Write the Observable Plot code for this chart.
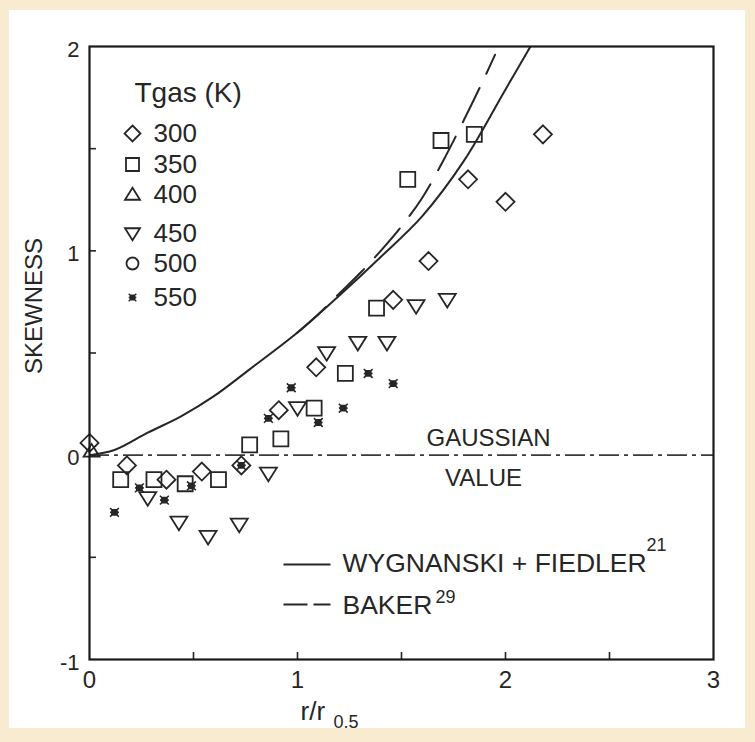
<!DOCTYPE html>
<html><head><meta charset="utf-8">
<script src="https://cdn.jsdelivr.net/npm/d3@7"></script>
<script src="https://cdn.jsdelivr.net/npm/@observablehq/plot@0.6"></script>
<style>
html,body{margin:0;padding:0;background:#f8ebcf;width:755px;height:742px;overflow:hidden}
#paper{position:absolute;left:9px;top:10px;width:736px;height:718px;background:#ffffff}
#chart{position:absolute;left:0;top:0}
</style></head><body>
<div id="paper"></div><div id="chart"></div>
<script>
// ---- data ----
const seriesLabels = ["300", "350", "400", "450", "500", "550"];

const r300 = [0.00, 0.18, 0.37, 0.54, 0.73, 0.91, 1.09, 1.46, 1.63, 1.82, 2.00, 2.18];
const s300 = [0.06, -0.05, -0.12, -0.08, -0.05, 0.22, 0.43, 0.76, 0.95, 1.35, 1.24, 1.57];

const r350 = [0.15, 0.31, 0.46, 0.62, 0.77, 0.92, 1.08, 1.23, 1.38, 1.53, 1.69, 1.85];
const s350 = [-0.12, -0.12, -0.14, -0.12, 0.05, 0.08, 0.23, 0.40, 0.72, 1.35, 1.54, 1.57];

const r400 = [0.01];
const s400 = [0.02];

const r450 = [0.28, 0.43, 0.57, 0.72, 0.86, 1.00, 1.14, 1.29, 1.43, 1.57, 1.72];
const s450 = [-0.21, -0.33, -0.40, -0.34, -0.09, 0.23, 0.50, 0.55, 0.55, 0.73, 0.76];

const r500 = [];
const s500 = [];

const r550 = [0.12, 0.24, 0.36, 0.49, 0.73, 0.86, 0.97, 1.10, 1.22, 1.34, 1.46];
const s550 = [-0.28, -0.16, -0.22, -0.15, -0.05, 0.18, 0.33, 0.16, 0.23, 0.40, 0.35];

// Wygnanski + Fiedler (solid)
const rWF = [0, 0.12, 0.28, 0.44, 0.60, 0.77, 1.00, 1.20, 1.40, 1.60, 1.80, 2.00, 2.12];
const sWF = [0, 0.025, 0.11, 0.19, 0.29, 0.42, 0.60, 0.78, 0.97, 1.17, 1.44, 1.79, 2.00];

// Baker (dashed)
const rBK = [1.00, 1.10, 1.20, 1.30, 1.40, 1.50, 1.60, 1.70, 1.80, 1.90, 1.95];
const sBK = [0.60, 0.69, 0.79, 0.89, 1.00, 1.12, 1.26, 1.44, 1.64, 1.85, 1.96];

const gaussianValue = [0];

const xTickLabels = [0, 1, 2, 3];
const yTickLabels = [-1, 0, 1, 2];
const xTickMarks = [0.5, 1, 1.5, 2, 2.5];
const yTickMarks = [-0.5, 0, 0.5, 1, 1.5];

const legendTitle = "Tgas (K)";
const curveLabels = ["WYGNANSKI + FIEDLER", "BAKER"];
const curveRefs = ["21", "29"];
const gaussianLabel = ["GAUSSIAN", "VALUE"];
const xTitle = ["r/r", "0.5"];
const yTitle = "SKEWNESS";

// ---- build tables ----
const tbl = (xs, ys) => xs.map((x, i) => ({x, y: ys[i]}));

// ---- custom symbols ----
const rad = (size) => Math.sqrt(size / Math.PI);
const diamondSym = {draw(c, s) { const r = rad(s); c.moveTo(0, -r); c.lineTo(r, 0); c.lineTo(0, r); c.lineTo(-r, 0); c.closePath(); }};
const squareSym = {draw(c, s) { const r = rad(s); c.rect(-r, -r, 2 * r, 2 * r); }};
const triUpSym = {draw(c, s) { const r = rad(s); c.moveTo(0, -r * 0.9); c.lineTo(r, r * 0.7); c.lineTo(-r, r * 0.7); c.closePath(); }};
const triDownSym = {draw(c, s) { const r = rad(s); c.moveTo(0, r * 0.9); c.lineTo(r, -r * 0.7); c.lineTo(-r, -r * 0.7); c.closePath(); }};
const circleSym = {draw(c, s) { const r = rad(s); c.moveTo(r, 0); c.arc(0, 0, r, 0, 2 * Math.PI); }};
const starSym = {draw(c, s) { const r = rad(s); c.rect(-r * 0.6, -r * 0.6, r * 1.2, r * 1.2); c.moveTo(-r, -r); c.lineTo(r, r); c.moveTo(r, -r); c.lineTo(-r, r); c.moveTo(-r, 0); c.lineTo(r, 0); }};
const hLineSym = {draw(c, s) { const r = rad(s); c.moveTo(-r, 0); c.lineTo(r, 0); }};

const ink = "#262626";
const symbols = [diamondSym, squareSym, triUpSym, triDownSym, circleSym, starSym];
const dataSets = [[r300, s300], [r350, s350], [r400, s400], [r450, s450], [r500, s500], [r550, s550]];
const dataR = [9, 7.5, 8, 8.5, 6.5, 4.4];
const legendR = [8, 6.5, 7.5, 7.5, 6, 3.8];
const legendDy = [87, 118, 148, 187, 217, 251];

const marks = [];

// Gaussian reference line
marks.push(Plot.ruleY(gaussianValue, {stroke: "#3a3a3a", strokeWidth: 1.8, strokeDasharray: "20,5,4,5"}));

// curves
marks.push(Plot.line(tbl(rWF, sWF), {x: "x", y: "y", curve: "catmull-rom", stroke: ink, strokeWidth: 2, clip: true}));
marks.push(Plot.line(tbl(rBK, sBK), {x: "x", y: "y", curve: "catmull-rom", stroke: ink, strokeWidth: 2, strokeDasharray: "38,16", clip: true}));

// data points
dataSets.forEach(([xs, ys], i) => {
  const isStar = i === 5;
  marks.push(Plot.dot(tbl(xs, ys), {
    x: "x", y: "y", symbol: symbols[i], r: dataR[i],
    stroke: ink, strokeWidth: isStar ? 1.6 : 1.8,
    fill: isStar ? ink : "none"
  }));
});

// ticks (inward)
marks.push(Plot.tickX(xTickMarks, {x: d => d, stroke: ink, strokeWidth: 1.6, insetTop: 613 - 7}));
marks.push(Plot.tickY(yTickMarks, {y: d => d, stroke: ink, strokeWidth: 1.6, insetRight: 624 - 7}));

// frame
marks.push(Plot.frame({stroke: "#1a1a1a", strokeWidth: 2.2}));

// axes labels
marks.push(Plot.axisX(xTickLabels, {tickSize: 0, tickPadding: 11, fontSize: 24, label: null, tickFormat: d => String(d)}));
marks.push(Plot.axisY(yTickLabels, {tickSize: 0, tickPadding: 10, fontSize: 22, label: null, dy: 3, tickFormat: d => String(d)}));

// axis titles
marks.push(Plot.text([yTitle], {text: d => d, frameAnchor: "left", dx: -55, dy: -47, rotate: -90, textAnchor: "middle", lineAnchor: "middle", fontSize: 24, fill: ink}));
marks.push(Plot.text([xTitle[0]], {text: d => d, frameAnchor: "bottom-left", dx: 211, dy: 52, textAnchor: "start", lineAnchor: "middle", fontSize: 26, letterSpacing: 1.5, fill: ink}));
marks.push(Plot.text([xTitle[1]], {text: d => d, frameAnchor: "bottom-left", dx: 244, dy: 63, textAnchor: "start", lineAnchor: "middle", fontSize: 18, fill: ink}));

// legend (Tgas)
marks.push(Plot.text([legendTitle], {text: d => d, frameAnchor: "top-left", dx: 45, dy: 47, textAnchor: "start", lineAnchor: "middle", fontSize: 28, letterSpacing: 0.5, fill: ink}));
seriesLabels.forEach((lab, i) => {
  const isStar = i === 5;
  marks.push(Plot.dot([lab], {frameAnchor: "top-left", dx: 43, dy: legendDy[i], symbol: symbols[i], r: legendR[i],
    stroke: ink, strokeWidth: isStar ? 1.4 : 1.8, fill: isStar ? ink : "none"}));
  marks.push(Plot.text([lab], {text: d => d, frameAnchor: "top-left", dx: 64, dy: legendDy[i], textAnchor: "start", lineAnchor: "middle", fontSize: 26, letterSpacing: 3, fill: ink}));
});

// curve legend
marks.push(Plot.dot([curveLabels[0]], {frameAnchor: "top-left", dx: 217.5, dy: 518, symbol: hLineSym, r: 23.5, stroke: ink, strokeWidth: 2}));
marks.push(Plot.dot([curveLabels[1]], {frameAnchor: "top-left", dx: 217.5, dy: 558, symbol: hLineSym, r: 23.5, stroke: ink, strokeWidth: 2, strokeDasharray: "24,6"}));
marks.push(Plot.text([curveLabels[0]], {text: d => d, frameAnchor: "top-left", dx: 253, dy: 517, textAnchor: "start", lineAnchor: "middle", fontSize: 26.5, fill: ink}));
marks.push(Plot.text([curveLabels[1]], {text: d => d, frameAnchor: "top-left", dx: 253, dy: 559, textAnchor: "start", lineAnchor: "middle", fontSize: 26.5, fill: ink}));
marks.push(Plot.text([curveRefs[0]], {text: d => d, frameAnchor: "top-left", dx: 557, dy: 499, textAnchor: "start", lineAnchor: "middle", fontSize: 18, fill: ink}));
marks.push(Plot.text([curveRefs[1]], {text: d => d, frameAnchor: "top-left", dx: 346, dy: 551, textAnchor: "start", lineAnchor: "middle", fontSize: 18, fill: ink}));

// Gaussian annotation
marks.push(Plot.text([gaussianLabel[0]], {text: d => d, frameAnchor: "top-left", dx: 399, dy: 392, textAnchor: "middle", lineAnchor: "middle", fontSize: 24, fill: ink}));
marks.push(Plot.text([gaussianLabel[1]], {text: d => d, frameAnchor: "top-left", dx: 394, dy: 432, textAnchor: "middle", lineAnchor: "middle", fontSize: 24, fill: ink}));

const chart = Plot.plot({
  width: 755, height: 742,
  marginLeft: 89, marginRight: 42, marginTop: 46, marginBottom: 83,
  x: {domain: [0, 3]},
  y: {domain: [-1, 2]},
  style: {fontFamily: "'Liberation Sans', Arial, sans-serif", color: ink, background: "transparent", overflow: "visible"},
  marks
});
document.getElementById("chart").appendChild(chart);
</script>
</body></html>
